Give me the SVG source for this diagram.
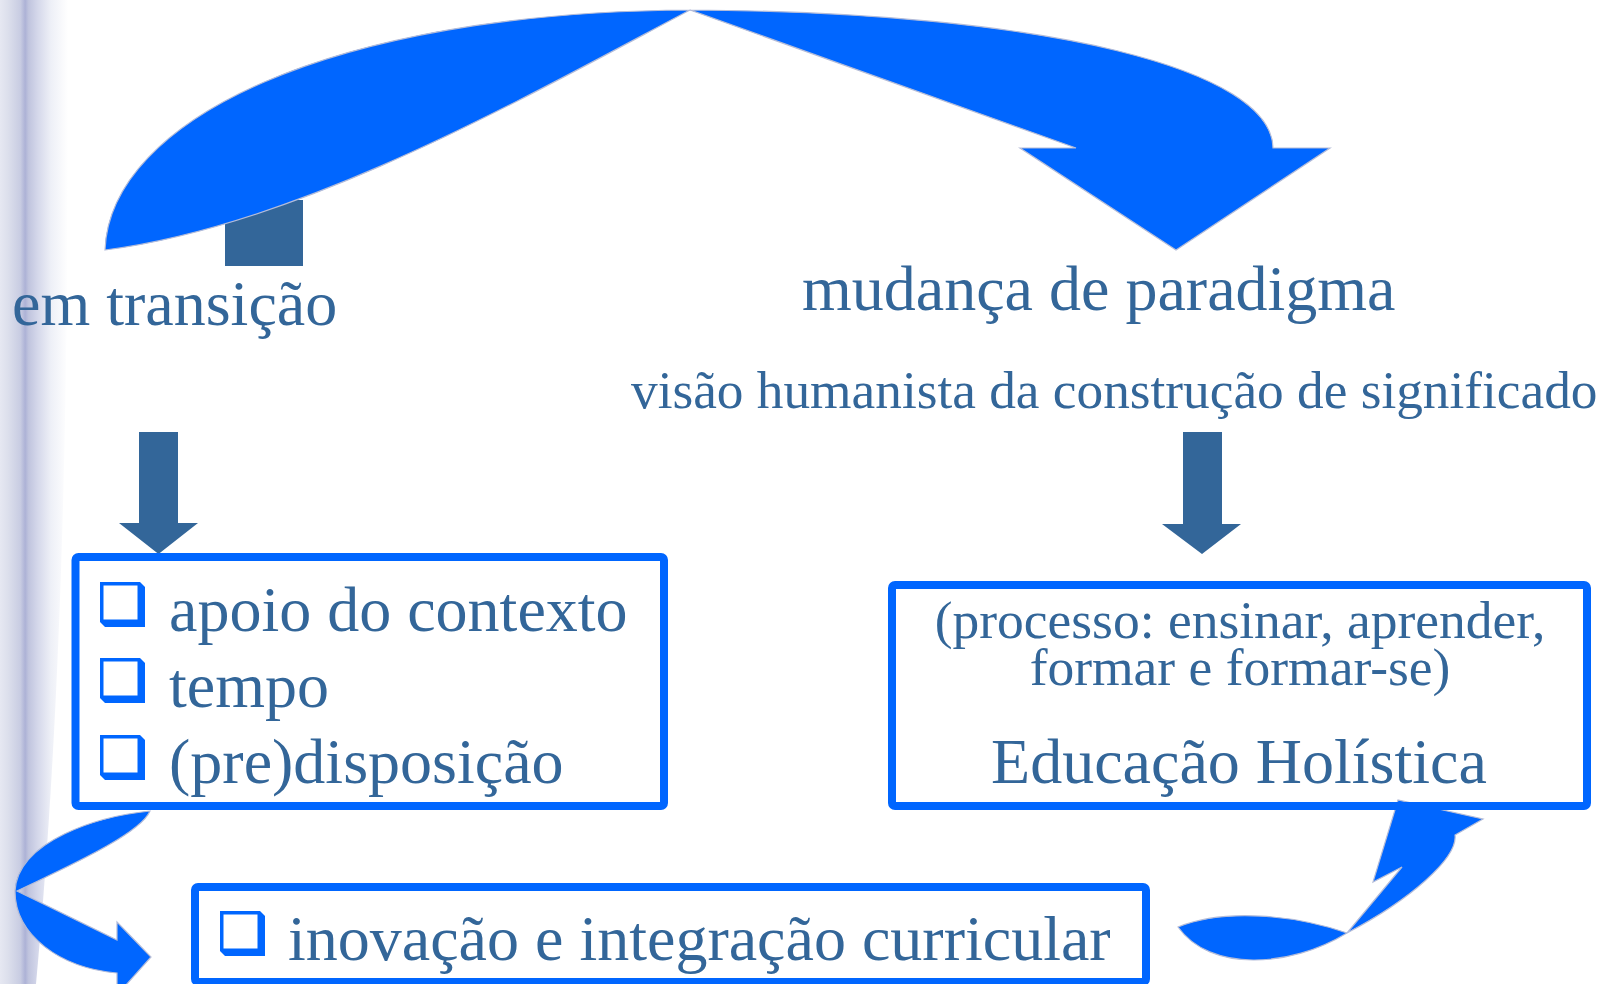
<svg xmlns="http://www.w3.org/2000/svg" width="1606" height="984" viewBox="0 0 1606 984">
<defs>
<linearGradient id="strip" x1="0" y1="0" x2="1" y2="0">
<stop offset="0" stop-color="#e6e8f2"/>
<stop offset="0.12" stop-color="#dcdfec"/>
<stop offset="0.3" stop-color="#c8cce2"/>
<stop offset="0.37" stop-color="#adb2d6"/>
<stop offset="0.42" stop-color="#c0c4de"/>
<stop offset="0.55" stop-color="#d4d7ea"/>
<stop offset="0.75" stop-color="#eef0f7"/>
<stop offset="1" stop-color="#ffffff"/>
</linearGradient>
<g id="bullet">
<path d="M0,0 L40,0 L45,5 L45,45 L5,45 L0,40 Z" fill="#0066ff"/>
<rect x="3.5" y="3.5" width="34" height="34" fill="#ffffff"/>
</g>
</defs>
<style>
.t{font-family:"Liberation Serif","Times New Roman",serif;fill:#336699}
.box{fill:none;stroke:#0066ff;stroke-width:8}
.dark{fill:#336699}
.blue{fill:#0066ff;stroke:#b4bcd8;stroke-width:1.2}
</style>
<rect width="1606" height="984" fill="#ffffff"/>
<path d="M0,0 L68,0 C69,400 62,700 36,984 L0,984 Z" fill="url(#strip)"/>

<g id="connectors">
<rect x="225" y="200" width="78" height="66" class="dark"/>
<path class="blue" d="M105,250 C110,120 330,12 690,10 C1050,12 1272,70 1273,148 L1330,148 L1176,250 L1020,148 L1076,148 L690,10 C520,100 300,225 105,250 Z"/>
<path class="dark" d="M139,432 L178,432 L178,523 L198,523 L158.5,554 L119,523 L139,523 Z"/>
<path class="dark" d="M1183,432 L1222,432 L1222,524 L1241,524 L1202,554 L1162,524 L1183,524 Z"/>
<path class="blue" d="M150,811 C100,816 18,840 15,891 C15,935 60,968 117,973 L117,995 L151,957 L117,922 L117,940 L17,891 C60,870 140,835 150,811 Z"/>
<path class="blue" d="M1347,933 L1402,867 L1373,882 L1398,800 L1483,819 L1455,835 C1458,858 1410,900 1347,933 C1290,968 1210,972 1178,927 C1225,908 1295,915 1347,933 Z"/>
</g>

<g id="node-em-transicao">
<text class="t" x="12" y="325" font-size="64">em transição</text>
</g>
<g id="node-mudanca">
<text class="t" x="802" y="310" font-size="64">mudança de paradigma</text>
<text class="t" x="631" y="408" font-size="53.3">visão humanista da construção de significado</text>
</g>
<g id="node-left-box">
<rect class="box" x="75.5" y="557" width="588.5" height="249" rx="3"/>
<use href="#bullet" x="100" y="582"/>
<use href="#bullet" x="100" y="658"/>
<use href="#bullet" x="100" y="735"/>
<text class="t" x="169" y="631" font-size="64">apoio do contexto</text>
<text class="t" x="169" y="707" font-size="64">tempo</text>
<text class="t" x="169" y="783" font-size="64">(pre)disposição</text>
</g>
<g id="node-right-box">
<rect class="box" x="892" y="585" width="695" height="221" rx="3"/>
<text class="t" x="1240" y="638" font-size="53.5" text-anchor="middle">(processo: ensinar, aprender,</text>
<text class="t" x="1240" y="685" font-size="53.5" text-anchor="middle">formar e formar-se)</text>
<text class="t" x="1239" y="783" font-size="64" text-anchor="middle">Educação Holística</text>
</g>
<g id="node-bottom-box">
<rect class="box" x="195" y="887" width="951" height="95" rx="3"/>
<use href="#bullet" x="220" y="911"/>
<text class="t" x="288" y="960" font-size="64">inovação e integração curricular</text>
</g>
</svg>
